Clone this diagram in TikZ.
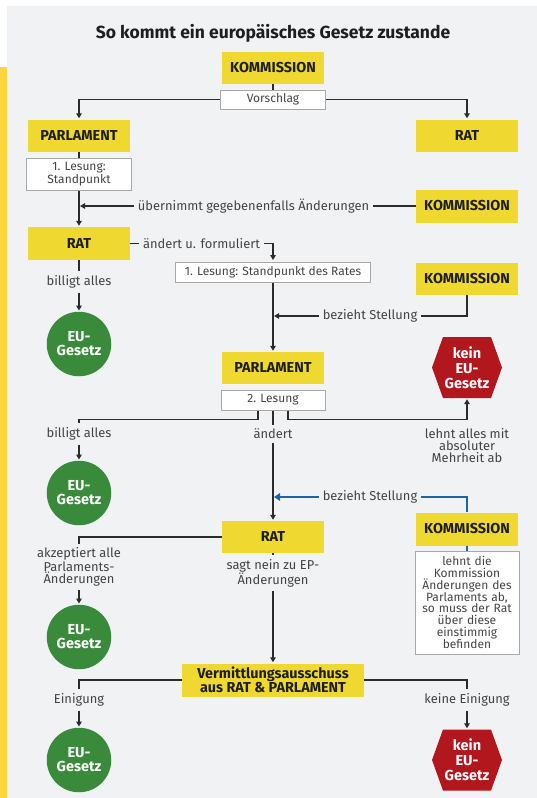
\documentclass[tikz,border=0pt]{standalone}
\usepackage{fontspec}
\setmainfont{Fira Sans}
\usetikzlibrary{arrows.meta,calc}
\definecolor{bg}{HTML}{F1F2F4}
\definecolor{strip}{HTML}{FDD53E}
\definecolor{eyel}{HTML}{EFD930}
\definecolor{egreen}{HTML}{3A8A3B}
\definecolor{ered}{HTML}{B3171E}
\definecolor{eblue}{HTML}{1B64A6}
\definecolor{txt}{HTML}{444444}
\definecolor{dark}{HTML}{1E1E1E}
\definecolor{boxline}{HTML}{A8A8A8}
\definecolor{lineC}{HTML}{2B2B2B}
\begin{document}
\begin{tikzpicture}[x=1pt,y=-1pt,
 inst/.style={fill=eyel, minimum width=102pt, minimum height=32pt, inner sep=0pt, font=\fontsize{14.4}{16}\selectfont\bfseries, text=dark, align=center},
 stage/.style={fill=white, draw=boxline, line width=1pt, inner sep=2pt, font=\fontsize{12}{12.8}\selectfont, text=txt, align=center},
 lab/.style={font=\fontsize{12.9}{12}\selectfont, text=txt, inner sep=4pt, align=center},
 eu/.style={circle, fill=egreen, minimum size=64.5pt, inner sep=0pt, text=white, font=\fontsize{14.5}{14}\selectfont\bfseries, align=center},
 hex/.style={minimum width=70pt, minimum height=61pt, inner sep=0pt, text=white, font=\fontsize{14.5}{14.8}\selectfont\bfseries, align=center,
   path picture={\fill[ered] (path picture bounding box.west) -- ($(path picture bounding box.north west)+(11pt,0pt)$) -- ($(path picture bounding box.north east)+(-11pt,0pt)$) -- (path picture bounding box.east) -- ($(path picture bounding box.south east)+(-11pt,0pt)$) -- ($(path picture bounding box.south west)+(11pt,0pt)$) -- cycle;}},
 con/.style={draw=lineC, line width=1.8pt},
 arr/.style={con, -{Triangle[length=5pt,width=5.5pt]}},
 blu/.style={draw=eblue, line width=2.8pt},
]
\useasboundingbox (0,0) rectangle (537,798);
\fill[white] (0,0) rectangle (537,798);
\fill[bg] (7,6) rectangle (537,798);
\fill[strip] (0,67) rectangle (7,798);

\node[font=\fontsize{17.5}{19}\selectfont\bfseries, text=dark] (title) at (273,33) {So kommt ein europäisches Gesetz zustande};

\node[inst] (k1) at (273,68) {KOMMISSION};
\node[stage, minimum width=105pt, minimum height=19pt] (vor) at (273,99.5) {Vorschlag};
\node[inst] (p1) at (79,136) {PARLAMENT};
\node[inst] (r1) at (467,136) {RAT};
\node[stage, minimum width=105pt, minimum height=32pt] (les1) at (79,174) {1. Lesung:\\Standpunkt};
\node[inst, minimum height=33pt] (k2) at (467,206) {KOMMISSION};
\node[lab] (ueb) at (253.5,206) {übernimmt gegebenenfalls Änderungen};
\node[inst, minimum height=33pt] (r2) at (79,243.5) {RAT};
\node[lab] (aend) at (201.5,243.5) {ändert u. formuliert};
\node[stage, minimum width=195pt, minimum height=20pt] (les2) at (273,272) {1. Lesung: Standpunkt des Rates};
\node[inst] (k3) at (467,279) {KOMMISSION};
\node[lab] (bill1) at (79,282) {billigt alles};
\node[lab] (bez1) at (370,316) {bezieht Stellung};
\node[eu] (eu1) at (79,344) {EU-\\Gesetz};
\node[inst] (p2) at (273,368) {PARLAMENT};
\node[hex] (no1) at (467,367.5) {kein\\EU-\\Gesetz};
\node[stage, minimum width=104pt, minimum height=20pt] (les3) at (273,400) {2. Lesung};
\node[lab] (bill2) at (79,434) {billigt alles};
\node[lab] (aend2) at (273,434) {ändert};
\node[lab] (lehnt) at (467,446) {lehnt alles mit\\absoluter\\Mehrheit ab};
\node[eu] (eu2) at (79,493) {EU-\\Gesetz};
\node[lab] (bez2) at (370,497) {bezieht Stellung};
\node[inst, minimum height=33pt] (k4) at (467,529) {KOMMISSION};
\node[inst] (r3) at (273,537) {RAT};
\node[stage, text width=100pt, minimum height=103pt, inner sep=2pt, font=\fontsize{12}{11.75}\selectfont] (note) at (467,602.5) {lehnt die\\Kommission\\Änderungen des\\Parlaments ab,\\so muss der Rat\\über diese\\einstimmig\\befinden};
\node[lab] (akz) at (79,567) {akzeptiert alle\\Parlaments-\\Änderungen};
\node[lab] (sagt) at (273,573) {sagt nein zu EP-\\Änderungen};
\node[eu] (eu3) at (79,637) {EU-\\Gesetz};
\node[inst, minimum width=182pt, minimum height=33pt, font=\fontsize{14.4}{14.5}\selectfont\bfseries] (verm) at (273,680) {Vermittlungsausschuss\\aus RAT \& PARLAMENT};
\node[lab] (ein) at (79,700) {Einigung};
\node[lab] (kein) at (467,700) {keine Einigung};
\node[eu] (eu4) at (79,760) {EU-\\Gesetz};
\node[hex] (no2) at (467,760) {kein\\EU-\\Gesetz};

\draw[con] (k1.south) -- (vor.north);
\draw[arr, shorten >=1.5pt] (vor.west) -| (p1.north);
\draw[arr, shorten >=1.5pt] (vor.east) -| (r1.north);
\draw[con] (p1.south) -- (les1.north);
\draw[arr, shorten >=1pt] (les1.south) -- (r2.north);
\draw[con] (k2.west) -- (ueb.east);
\draw[arr, shorten >=1pt] (ueb.west) -- (ueb.west -| les1.south);
\draw[con] (r2.east) -- (aend.west);
\draw[arr, shorten >=1.5pt] (aend.east) -| (les2.north);
\draw[arr, shorten >=1pt] (les2.south) -- (p2.north);
\draw[con] (k3.south) |- (bez1.east);
\draw[arr, shorten >=1pt] (bez1.west) -- (bez1.west -| les2.south);
\draw[con] (r2.south) -- (bill1.north);
\draw[arr, shorten >=1pt] (bill1.south) -- (eu1.north);
\draw[con] ([xshift=-15pt]les3.south) -- ++(0,9) -| (bill2.north);
\draw[arr, shorten >=1pt] (bill2.south) -- (eu2.north);
\draw[con] (les3.south) -- (aend2.north);
\draw[arr, shorten >=1pt] (aend2.south) -- (r3.north);
\draw[arr, shorten >=1pt] ([xshift=15pt]les3.south) -- ++(0,9) -| (no1.south);
\draw[blu] (k4.north) |- (bez2.east);
\draw[blu, -{Triangle[length=6pt,width=7.5pt]}, shorten >=1pt] (bez2.west) -- (bez2.west -| r3.north);
\draw[blu] (k4.south) -- (note.north);
\draw[con] (r3.west) -| (akz.north);
\draw[arr, shorten >=1pt] (akz.south) -- (eu3.north);
\draw[con] (r3.south) -- (sagt.north);
\draw[arr, shorten >=1pt] (sagt.south) -- (verm.north);
\draw[con] (verm.west) -| (ein.north);
\draw[arr, shorten >=1pt] (ein.south) -- (eu4.north);
\draw[con] (verm.east) -| (kein.north);
\draw[arr, shorten >=1pt] (kein.south) -- (no2.north);
\end{tikzpicture}
\end{document}
